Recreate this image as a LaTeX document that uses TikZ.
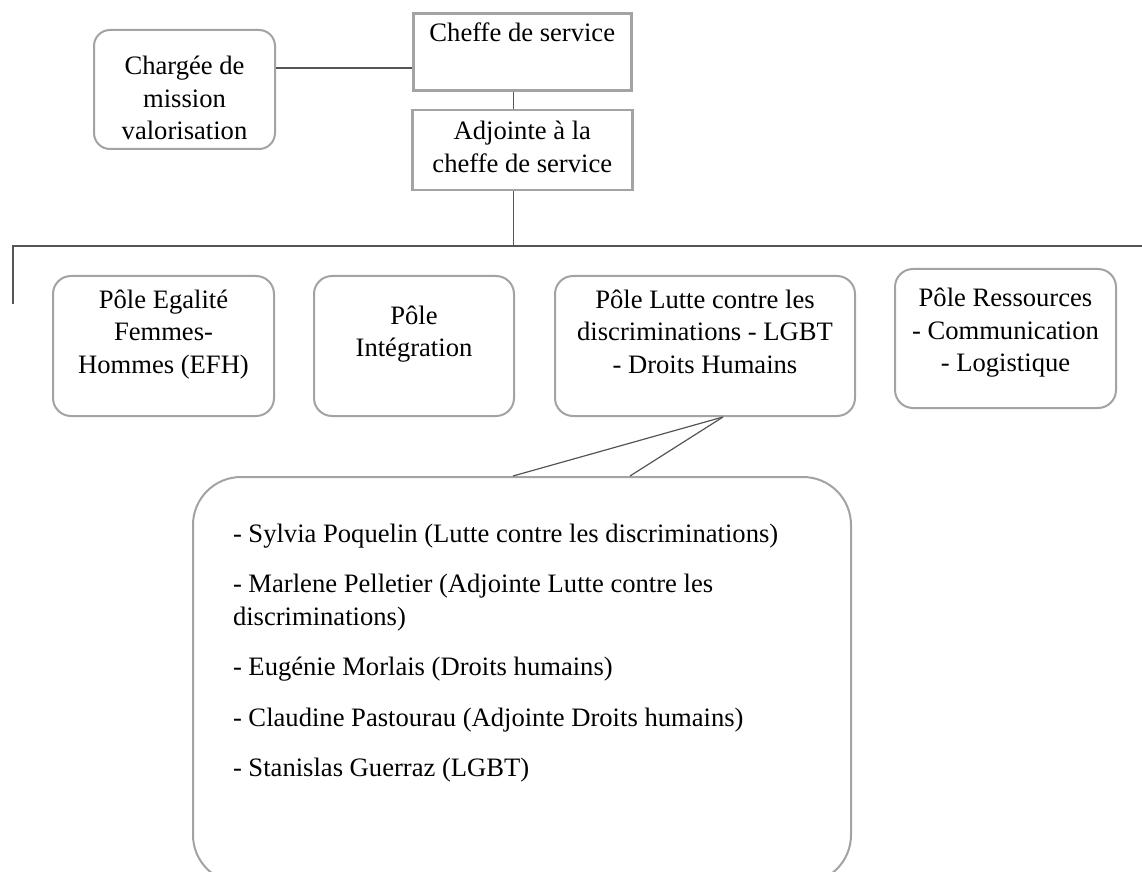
\documentclass[tikz,border=0pt]{standalone}
\usepackage{fontspec}
\setmainfont{Liberation Serif}
\usepackage{tikz}
\usetikzlibrary{positioning}
\usepackage{xcolor}

\definecolor{bordure}{HTML}{A3A3A3}
\definecolor{trait}{HTML}{555555}

\newcommand{\bas}[1]{\rule[-#1]{0pt}{#1}}
\newcommand{\haut}[1]{\rule{0pt}{#1}}

\begin{document}
\begin{tikzpicture}[x=0.5pt, y=-0.5pt,
    font=\fontsize{13.3pt}{16.25pt}\selectfont,
    boite/.style={draw=bordure, line width=1.3pt, align=center, inner sep=0pt},
    arrondi/.style={draw=bordure, line width=1pt, rounded corners=9pt, align=center, inner sep=0pt},
    pole/.style={arrondi, minimum height=70pt},
    liaison/.style={draw=trait, line width=0.6pt}]
    \useasboundingbox (0,0) rectangle (1142,872);

    \node[boite, anchor=north west, minimum width=109pt, text height=9pt, text depth=19.5pt, inner ysep=5pt] (cheffe) at (412,12) {Cheffe de service};
    \node[boite, below=8.5pt of cheffe, minimum width=110pt, minimum height=40pt] (adjointe) {Adjointe à la\\cheffe de service\bas{3pt}};
    \node[arrondi, rounded corners=8pt, anchor=north west, minimum width=90.5pt, minimum height=59.5pt] (chargee) at (93,29) {\haut{18pt}Chargée de\\mission\\valorisation};

    \node[pole, anchor=north west, minimum width=110.5pt] (efh) at (52,275) {Pôle Egalité\\Femmes-\\Hommes (EFH)\bas{14.6pt}};
    \node[pole, right=19pt of efh, minimum width=100pt] (integration) {Pôle\\Intégration\bas{14.6pt}};
    \node[pole, right=19.5pt of integration, minimum width=150pt] (lutte) {Pôle Lutte contre les\\discriminations - LGBT\\- Droits Humains\bas{14.6pt}};
    \node[pole, right=19pt of lutte, yshift=3.75pt, minimum width=110.5pt, minimum height=69.5pt] (ressources) {Pôle Ressources\\- Communication\\- Logistique\bas{8.5pt}};

    \node[arrondi, rounded corners=24pt, anchor=north west, align=flush left, text width=289pt, inner xsep=20pt, inner ysep=23.5pt] (membres) at (192,476) {- Sylvia Poquelin (Lutte contre les discriminations)\\[9pt]
        - Marlene Pelletier (Adjointe Lutte contre les\\
        discriminations)\\[9pt]
        - Eugénie Morlais (Droits humains)\\[9pt]
        - Claudine Pastourau (Adjointe Droits humains)\\[9pt]
        - Stanislas Guerraz (LGBT)\bas{29.5pt}};

    \coordinate (barre-g) at (13,246);
    \coordinate (barre-d) at (1142,246);
    \coordinate (barre-bas) at (13,304);

    \draw[liaison] ([yshift=10.75pt]chargee.east) -- ([yshift=10.75pt]chargee.east -| cheffe.west);
    \draw[liaison] ([xshift=-4.5pt]cheffe.south) -- ([xshift=-4.5pt]adjointe.north);
    \draw[liaison] ([xshift=-4.5pt]adjointe.south) -- ([xshift=-4.5pt]adjointe.south |- barre-g);
    \draw[liaison] (barre-bas) -- (barre-g) -- (barre-d);
    \draw[liaison] ([xshift=9pt]lutte.south) -- ([xshift=-4.5pt]membres.north);
    \draw[liaison] ([xshift=9pt]lutte.south) -- ([xshift=54pt]membres.north);
\end{tikzpicture}
\end{document}
